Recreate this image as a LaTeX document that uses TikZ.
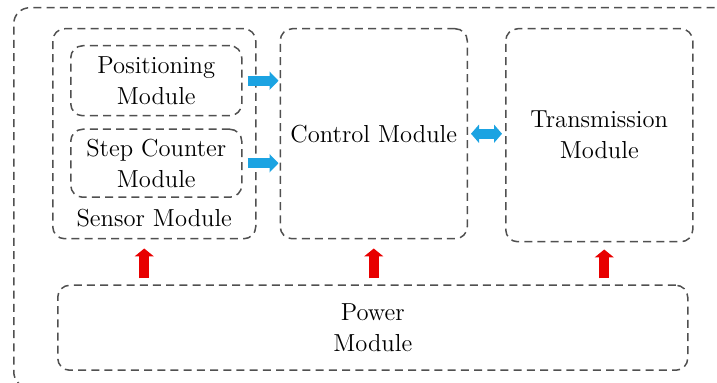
\documentclass[tikz,border=0pt]{standalone}
\usepackage{tikz}
\usetikzlibrary{arrows.meta, positioning, calc}
\definecolor{lineGray}{RGB}{80, 80, 80}
\definecolor{powerRed}{RGB}{232, 0, 0}
\definecolor{dataBlue}{RGB}{27, 163, 226}
\tikzstyle{module} = [rectangle, draw=lineGray, line width=0.75pt, dash pattern=on 4pt off 2.6pt, rounded corners=6pt, fill=none, text=black, align=center, font=\fontsize{12.3}{15.5}\selectfont, inner sep=0pt]
\tikzstyle{note} = [text=black, align=center, font=\fontsize{12.3}{15.5}\selectfont, inner sep=0pt]
\tikzstyle{powerarrow} = [line width=5pt, powerRed, -{Triangle[width=9.5pt, length=4pt]}]
\tikzstyle{dataarrow} = [line width=5pt, dataBlue, -{Triangle[width=9pt, length=4.5pt]}]
\tikzstyle{busarrow} = [line width=5pt, dataBlue, {Triangle[width=9pt, length=4pt]}-{Triangle[width=9pt, length=4pt]}]

\begin{document}
\begin{tikzpicture}

\clip (0,0) rectangle (358.5pt,-191.5pt);

\node (system) [module, rounded corners=8pt, minimum width=365pt, minimum height=190pt, anchor=north west] at (6.5pt,-3.5pt) {};

\node (sensor) [module, minimum width=101.5pt, minimum height=105pt, anchor=north west, xshift=19.5pt, yshift=-10.5pt] at(system.north west) {};
\node (posit) [module, minimum width=85.5pt, minimum height=35pt, anchor=north west, xshift=9pt, yshift=-8.5pt] at(sensor.north west) {Positioning\\Module};
\node (step) [module, minimum width=85.5pt, minimum height=34pt, anchor=north west, yshift=-6pt] at(posit.south west) {Step Counter\\Module};
\node (sensorNote) [note, anchor=center, yshift=10.5pt] at(sensor.south) {Sensor Module};

\node (control) [module, minimum width=93.5pt, minimum height=105pt, anchor=north west, xshift=11.5pt] at(sensor.north east) {Control Module};
\node (trans) [module, minimum width=93.5pt, minimum height=106.5pt, anchor=north west, xshift=18.5pt] at(control.north east) {Transmission\\Module};

\node (power) [module, minimum width=315pt, minimum height=42.5pt, anchor=north west, xshift=2.5pt, yshift=-22.5pt] at(sensor.south west) {Power\\Module};

% data flow
\draw [dataarrow, shorten <=2.5pt, shorten >=0.5pt] (posit.east) -- (posit.east -| control.west);
\draw [dataarrow, shorten <=2.5pt, shorten >=0.5pt] (step.east) -- (step.east -| control.west);
\draw [busarrow, shorten <=1.5pt, shorten >=1.5pt] (control.east) -- (control.east -| trans.west);

% supply
\draw [powerarrow, shorten <=3pt, shorten >=4.5pt] ($(power.north -| sensor.south) + (-5pt, 0)$) -- ($(sensor.south) + (-5pt, 0)$);
\draw [powerarrow, shorten <=3pt, shorten >=4.5pt] (power.north -| control.south) -- (control.south);
\draw [powerarrow, shorten <=3pt, shorten >=3.5pt] ($(power.north -| trans.south) + (2.5pt, 0)$) -- ($(trans.south) + (2.5pt, 0)$);

\end{tikzpicture}
\end{document}
